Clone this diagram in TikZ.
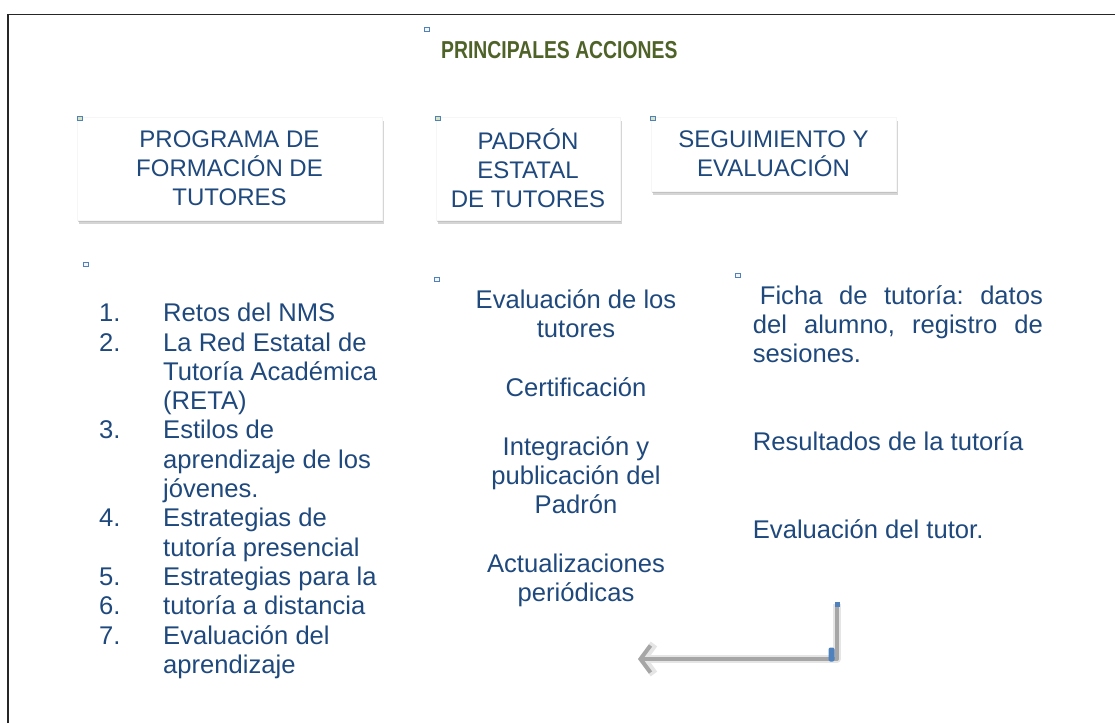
\documentclass[tikz,border=0pt]{standalone}
\usepackage{fontspec}
\setmainfont{Liberation Sans}
\usepackage{graphicx}
\usetikzlibrary{shadows,arrows.meta}
\frenchspacing
\definecolor{txtblue}{HTML}{1F497D}
\definecolor{titleolive}{HTML}{4F6228}
\definecolor{hblue}{HTML}{4F81BD}
\definecolor{hgreen}{HTML}{D7E4BD}
\definecolor{arrowgray}{HTML}{A6A6A6}
\newcommand\lsitem[2]{\makebox[64pt][l]{#1}#2}
\newcommand\lscont[1]{\hspace*{64pt}#1}
\newcommand\toplines[2]{\begin{tabular}[t]{@{}#1@{}}#2\end{tabular}}
\begin{document}
\begin{tikzpicture}[x=1pt,y=-1pt,
  headbox/.style={fill=white, draw=gray!7, text=txtblue,
    double copy shadow={shadow xshift=1pt,shadow yshift=-2.2pt,fill=black!30,opacity=.55, draw=none},
    align=center, inner sep=0pt, font=\fontsize{24pt}{29pt}\selectfont},
  body/.style={text=txtblue, inner sep=0pt, font=\fontsize{25.6pt}{29.3pt}\selectfont},
  handle/.style={draw=hblue, line width=0.9pt, fill=#1, minimum width=5pt, minimum height=4pt, inner sep=0pt},
  handle/.default=white!92!gray
]
\useasboundingbox (0,0) rectangle (1115,723);
% frame (top and left edges only)
\draw[black!85, line width=1.6pt] (8,723) -- (8,14.5) -- (1115,14.5);

% title
\node[anchor=base west, inner sep=0pt, text=titleolive, font=\fontsize{24.5pt}{29pt}\selectfont\bfseries] (title) at (441,58.3) {\scalebox{0.79}[1]{PRINCIPALES ACCIONES}};

% header boxes
\node[headbox, minimum width=305pt, minimum height=103pt] (b1) at (229.5,168.5) {PROGRAMA DE\\FORMACIÓN DE\\TUTORES};
\node[headbox, minimum width=184pt, minimum height=103pt] (b2) at (528,168.5) {PADRÓN\\ESTATAL\\DE TUTORES};
\node[headbox, minimum width=245pt, minimum height=74pt] (b3) at (773.5,154) {SEGUIMIENTO Y\\EVALUACIÓN};

% left list
\node[body, anchor=base west] (list) at (99,321.7) {\toplines{l}{%
\lsitem{1.}{Retos del NMS}\\
\lsitem{2.}{La Red Estatal de}\\
\lscont{Tutoría Académica}\\
\lscont{(RETA)}\\
\lsitem{3.}{Estilos de}\\
\lscont{aprendizaje de los}\\
\lscont{jóvenes.}\\
\lsitem{4.}{Estrategias de}\\
\lscont{tutoría presencial}\\
\lsitem{5.}{Estrategias para la}\\
\lsitem{6.}{tutoría a distancia}\\
\lsitem{7.}{Evaluación del}\\
\lscont{aprendizaje}}};

% middle column
\node[body, anchor=base] (m1) at (576,308.3) {\toplines{c}{Evaluación de los\\tutores}};
\node[body, anchor=base] (m2) at (576,396.7) {Certificación};
\node[body, anchor=base] (m3) at (576,455) {\toplines{c}{Integración y\\publicación del\\Padrón}};
\node[body, anchor=base] (m4) at (576,572.3) {\toplines{c}{Actualizaciones\\periódicas}};

% right column
\node[body, anchor=base west] (r1) at (752.7,304) {\toplines{l}{%
\makebox[290pt][s]{\hspace*{7pt}Ficha de tutoría: datos}\\
\makebox[290pt][s]{del alumno, registro de}\\
sesiones.}};
\node[body, anchor=base west] (r2) at (752.7,450.7) {Resultados de la tutoría};
\node[body, anchor=base west] (r3) at (752.7,538.3) {Evaluación del tutor.};

% selection handles
\node[handle] (h0) at (427,29) {};
\node[handle=hgreen] (h1) at (80,118) {};
\node[handle=hgreen] (h2) at (438,118) {};
\node[handle=hgreen] (h3) at (653,118) {};
\node[handle] (h4) at (86,264) {};
\node[handle] (h5) at (437,279) {};
\node[handle] (h6) at (738,275) {};

% return arrow
\coordinate (as) at (837,604);
\coordinate (ac) at (837,659);
\coordinate (ae) at (638,659);
\draw[line width=8pt, black!10, line join=round, -{Straight Barb[length=11pt,width=30pt]}] (as) -- (ac) -- (ae);
\draw[line width=4pt, arrowgray, line join=round, -{Straight Barb[length=10pt,width=27pt]}] (as) -- (ac) -- (ae);
\node[fill=hblue, minimum width=5pt, minimum height=5pt, inner sep=0pt] (ah1) at (as) {};
\node[fill=hblue, rounded corners=2pt, minimum width=6pt, minimum height=14pt, inner sep=0pt] (ah2) at (831.5,654.5) {};
\end{tikzpicture}
\end{document}
